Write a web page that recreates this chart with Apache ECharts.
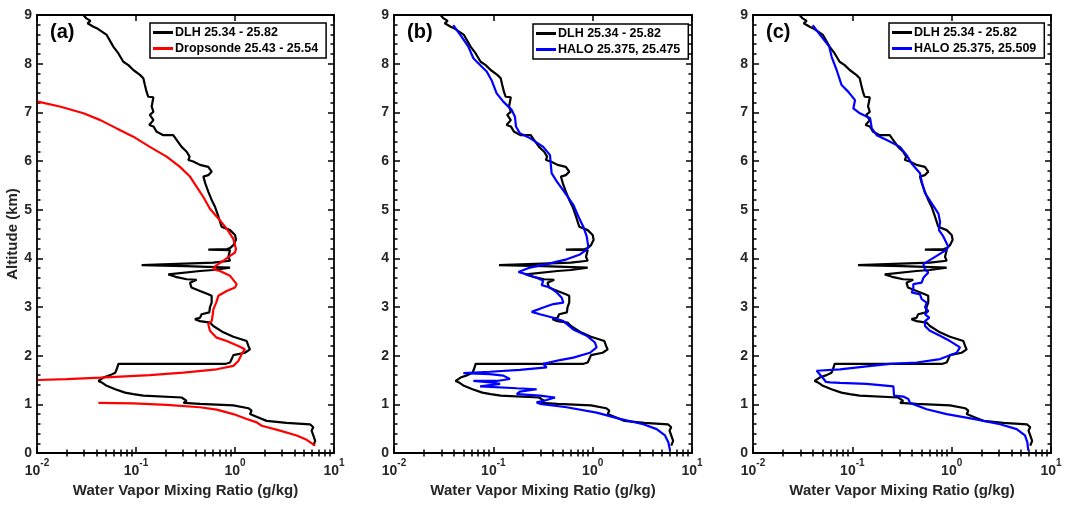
<!DOCTYPE html>
<html>
<head>
<meta charset="utf-8">
<script src="https://cdn.jsdelivr.net/npm/echarts@6/dist/echarts.min.js"></script>
<style>
html,body{margin:0;padding:0;background:#fff;}
#chart{width:1070px;height:506px;}
</style>
</head>
<body>
<div id="chart"></div>
<script>
// ---- data: [mixing ratio g/kg, altitude km] ----
const dlhProfile = [
[0.0294,9.00],[0.0316,8.93],[0.0347,8.88],[0.0324,8.83],[0.0372,8.76],[0.0401,8.73],[0.0506,8.59],[0.059,8.35],
[0.0664,8.21],[0.0745,8.04],[0.0838,7.97],[0.094,7.87],[0.1096,7.77],[0.1186,7.70],[0.123,7.56],[0.128,7.42],
[0.133,7.32],[0.150,7.31],[0.144,7.12],[0.150,7.01],[0.138,6.95],[0.150,6.84],[0.136,6.74],[0.150,6.71],
[0.162,6.60],[0.189,6.53],[0.238,6.53],[0.258,6.43],[0.289,6.29],[0.325,6.19],[0.348,6.09],[0.338,6.02],
[0.379,5.99],[0.443,5.92],[0.537,5.88],[0.581,5.78],[0.537,5.71],[0.479,5.68],[0.501,5.54],[0.537,5.37],
[0.581,5.20],[0.628,5.06],[0.679,4.86],[0.733,4.65],[0.891,4.58],[1.0,4.48],[1.023,4.38],[0.962,4.27],
[0.891,4.21],[0.832,4.19],[0.537,4.18],[0.891,4.17],[0.857,4.03],[0.891,3.95],[0.603,3.91],[0.114,3.86],
[0.316,3.84],[0.891,3.81],[0.603,3.76],[0.443,3.74],[0.212,3.67],[0.251,3.62],[0.325,3.57],[0.41,3.56],
[0.351,3.50],[0.363,3.40],[0.443,3.33],[0.537,3.26],[0.581,3.23],[0.581,3.09],[0.558,2.99],[0.55,2.89],
[0.46,2.85],[0.443,2.78],[0.394,2.75],[0.443,2.71],[0.558,2.68],[0.604,2.61],[0.762,2.48],[0.962,2.39],
[1.312,2.30],[1.365,2.20],[1.416,2.13],[1.259,2.06],[0.962,2.01],[0.925,1.93],[0.891,1.86],[0.794,1.83],
[0.0664,1.83],[0.0638,1.72],[0.0617,1.65],[0.055,1.60],[0.0468,1.55],[0.0417,1.48],[0.045,1.45],[0.0506,1.38],
[0.0617,1.31],[0.0776,1.24],[0.094,1.21],[0.1186,1.18],[0.289,1.14],[0.325,1.07],[0.302,1.03],[0.443,1.01],
[0.962,0.98],[1.365,0.92],[1.472,0.87],[1.416,0.80],[1.722,0.73],[2.089,0.66],[3.311,0.62],[5.728,0.59],
[6.18,0.53],[5.94,0.46],[6.18,0.36],[6.457,0.25],[6.18,0.15]
];
const dropsondeUpper = [
[0.0102,7.22],[0.017,7.12],[0.0295,6.98],[0.0437,6.84],[0.0638,6.67],[0.094,6.50],[0.138,6.29],[0.204,6.09],
[0.278,5.88],[0.351,5.68],[0.41,5.47],[0.479,5.26],[0.558,5.02],[0.679,4.82],[0.824,4.61],[0.962,4.40],
[1.023,4.19],[1.0,4.12],[0.891,4.05],[0.762,3.95],[0.631,3.84],[0.604,3.77],[0.705,3.74],[0.891,3.64],
[1.04,3.47],[1.0,3.40],[0.824,3.33],[0.679,3.23],[0.646,3.09],[0.604,2.95],[0.594,2.82],[0.581,2.71],
[0.537,2.65],[0.558,2.51],[0.653,2.37],[0.824,2.30],[1.081,2.20],[1.259,2.13],[1.167,2.03],[1.081,1.89],
[0.962,1.79],[0.653,1.72],[0.301,1.65],[0.138,1.60],[0.0437,1.55],[0.02,1.52],[0.0102,1.50]
];
const dropsondeLower = [
[0.0417,1.03],[0.094,1.02],[0.204,0.99],[0.443,0.94],[0.653,0.89],[0.962,0.80],[1.312,0.70],[1.656,0.63],
[1.862,0.56],[2.851,0.46],[4.198,0.36],[5.297,0.27],[6.457,0.15]
];
const haloB = [
[0.0395,8.79],[0.048,8.55],[0.056,8.35],[0.063,8.11],[0.0706,8.01],[0.0857,7.84],[0.096,7.66],[0.108,7.39],
[0.126,7.22],[0.153,7.05],[0.165,6.91],[0.169,6.71],[0.185,6.57],[0.234,6.47],[0.318,6.29],[0.372,6.12],
[0.378,5.95],[0.386,5.75],[0.435,5.58],[0.547,5.30],[0.638,5.10],[0.718,4.86],[0.805,4.65],[0.871,4.45],
[0.904,4.24],[0.871,4.18],[0.745,4.08],[0.547,3.98],[0.344,3.88],[0.234,3.81],[0.179,3.72],[0.217,3.67],
[0.273,3.60],[0.318,3.54],[0.307,3.45],[0.372,3.40],[0.435,3.30],[0.488,3.19],[0.507,3.09],[0.402,3.06],
[0.318,2.99],[0.243,2.90],[0.295,2.85],[0.402,2.78],[0.507,2.71],[0.638,2.54],[0.871,2.41],[1.054,2.27],
[1.096,2.17],[0.94,2.06],[0.638,1.96],[0.469,1.91],[0.318,1.83],[0.344,1.76],[0.185,1.71],[0.0925,1.67],
[0.0499,1.64],[0.0925,1.62],[0.126,1.59],[0.147,1.52],[0.108,1.48],[0.063,1.48],[0.0925,1.45],[0.117,1.42],
[0.0735,1.37],[0.172,1.33],[0.273,1.31],[0.185,1.26],[0.172,1.21],[0.295,1.18],[0.418,1.14],[0.344,1.09],
[0.273,1.04],[0.295,1.01],[0.547,0.94],[1.096,0.83],[1.884,0.70],[3.236,0.59],[4.406,0.49],[5.346,0.36],
[5.78,0.22],[6.01,0.05]
];
const haloC = [
[0.0399,8.79],[0.0491,8.55],[0.0586,8.35],[0.0619,8.14],[0.0695,7.87],[0.078,7.56],[0.0912,7.42],[0.1064,7.25],
[0.1024,7.08],[0.119,6.98],[0.151,6.88],[0.157,6.67],[0.176,6.53],[0.222,6.43],[0.302,6.29],[0.352,6.12],
[0.395,5.95],[0.48,5.75],[0.499,5.58],[0.539,5.34],[0.63,5.13],[0.735,4.92],[0.764,4.75],[0.745,4.58],
[0.824,4.45],[0.925,4.24],[0.891,4.18],[0.706,4.05],[0.519,3.88],[0.539,3.77],[0.582,3.71],[0.519,3.60],
[0.499,3.50],[0.411,3.47],[0.411,3.36],[0.395,3.30],[0.48,3.26],[0.499,3.16],[0.56,3.09],[0.539,2.99],
[0.582,2.92],[0.539,2.85],[0.596,2.78],[0.539,2.71],[0.539,2.61],[0.605,2.51],[0.764,2.41],[0.962,2.30],
[1.213,2.17],[1.122,2.06],[0.764,1.93],[0.445,1.86],[0.239,1.83],[0.139,1.78],[0.0752,1.72],[0.0438,1.69],
[0.051,1.53],[0.0543,1.46],[0.0596,1.45],[0.0752,1.44],[0.139,1.42],[0.259,1.37],[0.263,1.18],[0.326,1.16],
[0.366,1.11],[0.381,1.03],[0.56,0.90],[0.891,0.80],[1.652,0.70],[3.069,0.59],[4.508,0.49],[5.47,0.36],
[5.78,0.22],[5.91,0.05]
];
const panelLabels = ['(a)', '(b)', '(c)'];
const xExponentLabels = { '0.01': '-2', '0.1': '-1', '1': '0', '10': '1' };
const xMinorTicks = [0.02,0.03,0.04,0.05,0.06,0.07,0.08,0.09,0.2,0.3,0.4,0.5,0.6,0.7,0.8,0.9,2,3,4,5,6,7,8,9];
const nameDLH = 'DLH 25.34 - 25.82';
const nameDrop = 'Dropsonde 25.43 - 25.54';
const nameHaloB = 'HALO 25.375, 25.475';
const nameHaloC = 'HALO 25.375, 25.509';

// ---- layout ----
const FONT = 'Liberation Sans, Arial, Helvetica, sans-serif';
const TXT = '#262626';
const grids = [
  { left: 37, width: 297, top: 15, height: 438 },
  { left: 394, width: 298, top: 15, height: 438 },
  { left: 753, width: 298, top: 15, height: 438 }
];
const legendPos = [
  { left: 150, top: 23 },
  { left: 533, top: 24 },
  { left: 889, top: 23 }
];

const xAxes = [], yAxes = [];
const tickStyle = { color: '#000', width: 1.5 };
grids.forEach((g, i) => {
  const baseX = {
    type: 'log', logBase: 10, min: 0.01, max: 10, gridIndex: i,
    axisLine: { show: true, onZero: false, lineStyle: { color: '#000', width: 1.8 } },
    axisTick: { show: true, inside: true, length: 6, lineStyle: tickStyle },
    splitLine: { show: false }
  };
  // main bottom axis (index 4*i)
  xAxes.push(Object.assign({}, baseX, {
    position: 'bottom',
    name: 'Water Vapor Mixing Ratio (g/kg)', nameLocation: 'middle', nameGap: 28,
    nameTextStyle: { fontFamily: FONT, fontWeight: 'bold', fontSize: 15, color: TXT },
    axisLabel: {
      show: true, margin: 5, showMinLabel: true, showMaxLabel: true,
      formatter: function (v) {
        const key = String(+v.toPrecision(3));
        return '{b|10}{s|' + (xExponentLabels[key] || '') + '}';
      },
      rich: {
        b: { fontFamily: FONT, fontWeight: 'bold', fontSize: 14, color: TXT, verticalAlign: 'bottom', lineHeight: 20 },
        s: { fontFamily: FONT, fontWeight: 'bold', fontSize: 10, color: TXT, verticalAlign: 'top', lineHeight: 20 }
      }
    }
  }));
  xAxes.push(Object.assign({}, baseX, { position: 'top', axisLabel: { show: false } }));
  const minorX = {
    type: 'log', logBase: 10, min: 0.01, max: 10, gridIndex: i,
    axisLine: { show: false }, axisLabel: { show: false }, splitLine: { show: false },
    axisTick: { show: true, inside: true, length: 3.5, lineStyle: tickStyle, customValues: xMinorTicks }
  };
  xAxes.push(Object.assign({}, minorX, { position: 'bottom' }));
  xAxes.push(Object.assign({}, minorX, { position: 'top' }));

  const baseY = {
    type: 'value', min: 0, max: 9, interval: 1, gridIndex: i,
    axisLine: { show: true, onZero: false, lineStyle: { color: '#000', width: 1.8 } },
    axisTick: { show: true, inside: true, length: 6, lineStyle: tickStyle },
    minorTick: { show: true, splitNumber: 5, length: 3.5, lineStyle: tickStyle },
    splitLine: { show: false }
  };
  yAxes.push(Object.assign({}, baseY, {
    position: 'left',
    name: i === 0 ? 'Altitude (km)' : '', nameLocation: 'middle', nameGap: 14,
    nameTextStyle: { fontFamily: FONT, fontWeight: 'bold', fontSize: 15, color: TXT },
    axisLabel: { show: true, margin: 5, fontFamily: FONT, fontWeight: 'bold', fontSize: 14, color: TXT }
  }));
  yAxes.push(Object.assign({}, baseY, { position: 'right', axisLabel: { show: false } }));
});

function lineSeries(name, data, color, panel) {
  return {
    type: 'line', name: name, data: data,
    xAxisIndex: panel * 4, yAxisIndex: panel * 2,
    symbol: 'none', showSymbol: false, clip: true,
    lineStyle: { color: color, width: 2.2 }, itemStyle: { color: color },
    animation: false
  };
}

const series = [
  lineSeries(nameDLH, dlhProfile, '#000000', 0),
  lineSeries(nameDrop, dropsondeUpper, '#ff0000', 0),
  lineSeries(nameDrop, dropsondeLower, '#ff0000', 0),
  lineSeries(nameDLH, dlhProfile, '#000000', 1),
  lineSeries(nameHaloB, haloB, '#0000ff', 1),
  lineSeries(nameDLH, dlhProfile, '#000000', 2),
  lineSeries(nameHaloC, haloC, '#0000ff', 2)
];

const legendData = [[nameDLH, nameDrop], [nameDLH, nameHaloB], [nameDLH, nameHaloC]];
const legends = legendData.map((d, i) => ({
  data: d, orient: 'vertical', left: legendPos[i].left, top: legendPos[i].top,
  backgroundColor: '#fff', borderColor: '#000', borderWidth: 1.5, borderRadius: 0,
  padding: [3, 8, 3, 3], itemGap: 3, itemWidth: 20, itemHeight: 3, icon: 'rect',
  selectedMode: false,
  textStyle: { fontFamily: FONT, fontWeight: 'bold', fontSize: 12.5, color: '#000', padding: [0, 0, 0, -3] }
}));

const graphics = panelLabels.map((t, i) => ({
  type: 'text', left: grids[i].left + 13, top: 22,
  style: { text: t, fontFamily: FONT, fontWeight: 'bold', fontSize: 20, fill: '#000' }
}));

const chart = echarts.init(document.getElementById('chart'), null, { renderer: 'canvas' });
chart.setOption({
  animation: false,
  backgroundColor: '#fff',
  grid: grids.map(g => Object.assign({ containLabel: false }, g)),
  xAxis: xAxes,
  yAxis: yAxes,
  legend: legends,
  graphic: graphics,
  series: series
});
</script>
</body>
</html>
